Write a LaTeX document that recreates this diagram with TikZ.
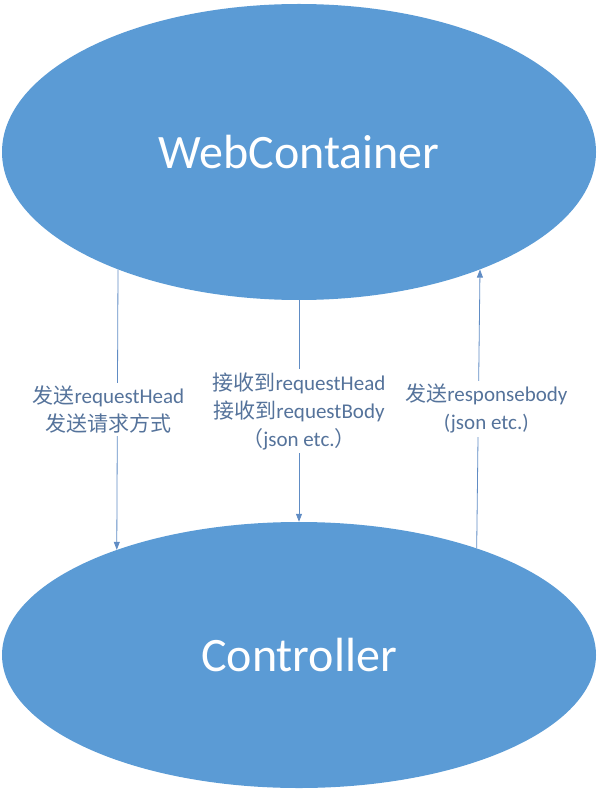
\documentclass[tikz,border=0pt]{standalone}
\usepackage{fontspec}
\setmainfont{Carlito}
\newfontfamily\cjk{Noto Sans CJK SC}
\usetikzlibrary{shapes.geometric,arrows.meta}
\definecolor{ovalblue}{RGB}{91,155,213}
\definecolor{linkblue}{RGB}{96,140,196}
\definecolor{notegray}{RGB}{85,115,155}
\newcommand{\zh}[1]{{\cjk #1}}
\begin{document}
\begin{tikzpicture}[x=1pt,y=-1pt,
	oval/.style={ellipse,fill=ovalblue,text=white,minimum width=594pt,inner sep=0pt,font=\fontsize{48}{56}\selectfont},
	link/.style={draw=linkblue,line width=0.8pt,-{Triangle[length=8pt,width=6pt]}},
	note/.style={fill=white,text=notegray,align=center,inner sep=3pt,font=\fontsize{21}{28}\selectfont}]
	\useasboundingbox (0,0) rectangle (598,791);
	\node[oval,minimum height=296pt] (web) at (299,152) {WebContainer};
	\node[oval,minimum height=266pt] (ctrl) at (299,655) {Controller};
	\draw[link] (web.-147.5) -- node[note,xshift=-9pt] {\zh{发送}requestHead\\\zh{发送请求方式}} (ctrl.150.2);
	\draw[link] (web.south) -- node[note] {\zh{接收到}requestHead\\\zh{接收到}requestBody\\\zh{（}json etc.\zh{）}} (ctrl.north);
	\draw[link] (ctrl.31.1) -- node[note,xshift=8pt] {\zh{发送}responsebody\\(json etc.)} (web.-33.9);
\end{tikzpicture}
\end{document}
